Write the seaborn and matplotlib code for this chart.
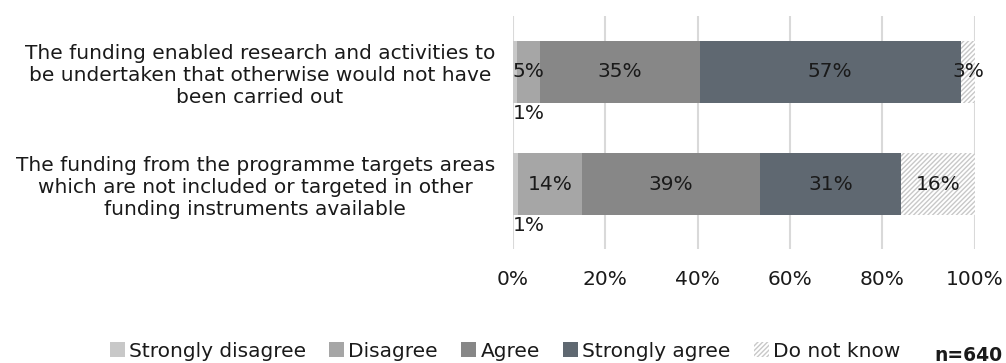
import seaborn as sns
import matplotlib.pyplot as plt
import pandas as pd
from matplotlib.patches import Patch

# Survey answers (% of respondents)
statements = [
    "The funding enabled research and activities to\nbe undertaken that otherwise would not have\nbeen carried out",
    "The funding from the programme targets areas\nwhich are not included or targeted in other\nfunding instruments available",
]
categories = ["Strongly disagree", "Disagree", "Agree", "Strongly agree", "Do not know"]
strongly_disagree = [0.9, 1.0]
disagree = [4.9, 13.9]
agree = [34.6, 38.6]
strongly_agree = [56.6, 30.6]
do_not_know = [3.0, 15.9]
colors = ["#c8c8c8", "#a6a6a6", "#878787", "#5f6871", "#ffffff"]

sns.set_style("white")
plt.rcParams["font.family"] = ["DejaVu Sans"]
plt.rcParams["hatch.color"] = "#c8c8c8"
FS = 14.5
TXT = "#1a1a1a"

df = pd.DataFrame({
    "statement": statements,
    "Strongly disagree": strongly_disagree,
    "Disagree": disagree,
    "Agree": agree,
    "Strongly agree": strongly_agree,
    "Do not know": do_not_know,
})
cum = df[categories].cumsum(axis=1)

fig = plt.figure(figsize=(10.06, 3.63), dpi=100)
ax = fig.add_axes([0.51, 0.314, 0.459, 0.642])

# stacked bars: draw the cumulative totals from the last segment backwards
for cat, col in reversed(list(zip(categories, colors))):
    sns.barplot(x=cum[cat], y=df["statement"], color=col, orient="h",
                width=0.55, ax=ax, saturation=1, linewidth=0)
    if cat == "Do not know":
        for p in ax.patches:
            p.set_hatch("///////")
            p.set_edgecolor("#c8c8c8")
            p.set_linewidth(0)

# value labels
for i in range(len(statements)):
    left = 0
    for cat in categories:
        v = df.loc[i, cat]
        if cat == "Strongly disagree":
            ax.text(left, i + 0.37, f"{v:.0f}%", ha="left", va="center", fontsize=FS, color=TXT)
        else:
            ax.text(left + v / 2, i, f"{v:.0f}%", ha="center", va="center", fontsize=FS, color=TXT)
        left += v

ax.set_xlim(0, 100)
ax.set_ylim(1.58, -0.5)
ax.set_xticks([0, 20, 40, 60, 80, 100])
ax.set_xticklabels([f"{t}%" for t in [0, 20, 40, 60, 80, 100]])
ax.xaxis.grid(True, color="#d9d9d9", linewidth=1.5)
ax.set_axisbelow(True)
for s in ax.spines.values():
    s.set_visible(False)
ax.tick_params(axis="both", length=0, labelsize=FS, colors=TXT)
ax.tick_params(axis="x", pad=15)
ax.tick_params(axis="y", pad=13)
for lab in ax.get_yticklabels():
    lab.set_multialignment("center")
ax.set_xlabel("")
ax.set_ylabel("")

handles = [Patch(facecolor=c, edgecolor="#c8c8c8" if c == "#ffffff" else c,
                 hatch="///////" if c == "#ffffff" else None, linewidth=0)
           for c in colors]
fig.legend(handles, categories, loc="center", bbox_to_anchor=(0.502, 0.033), ncol=5,
           frameon=False, fontsize=FS, handlelength=0.75, handleheight=0.75,
           handletextpad=0.2, columnspacing=1.15, labelcolor=TXT)
fig.text(0.929, 0.006, "n=640", fontsize=13.5, fontweight="bold", ha="left", va="baseline", color=TXT)

fig.savefig("out.png", dpi=100)
